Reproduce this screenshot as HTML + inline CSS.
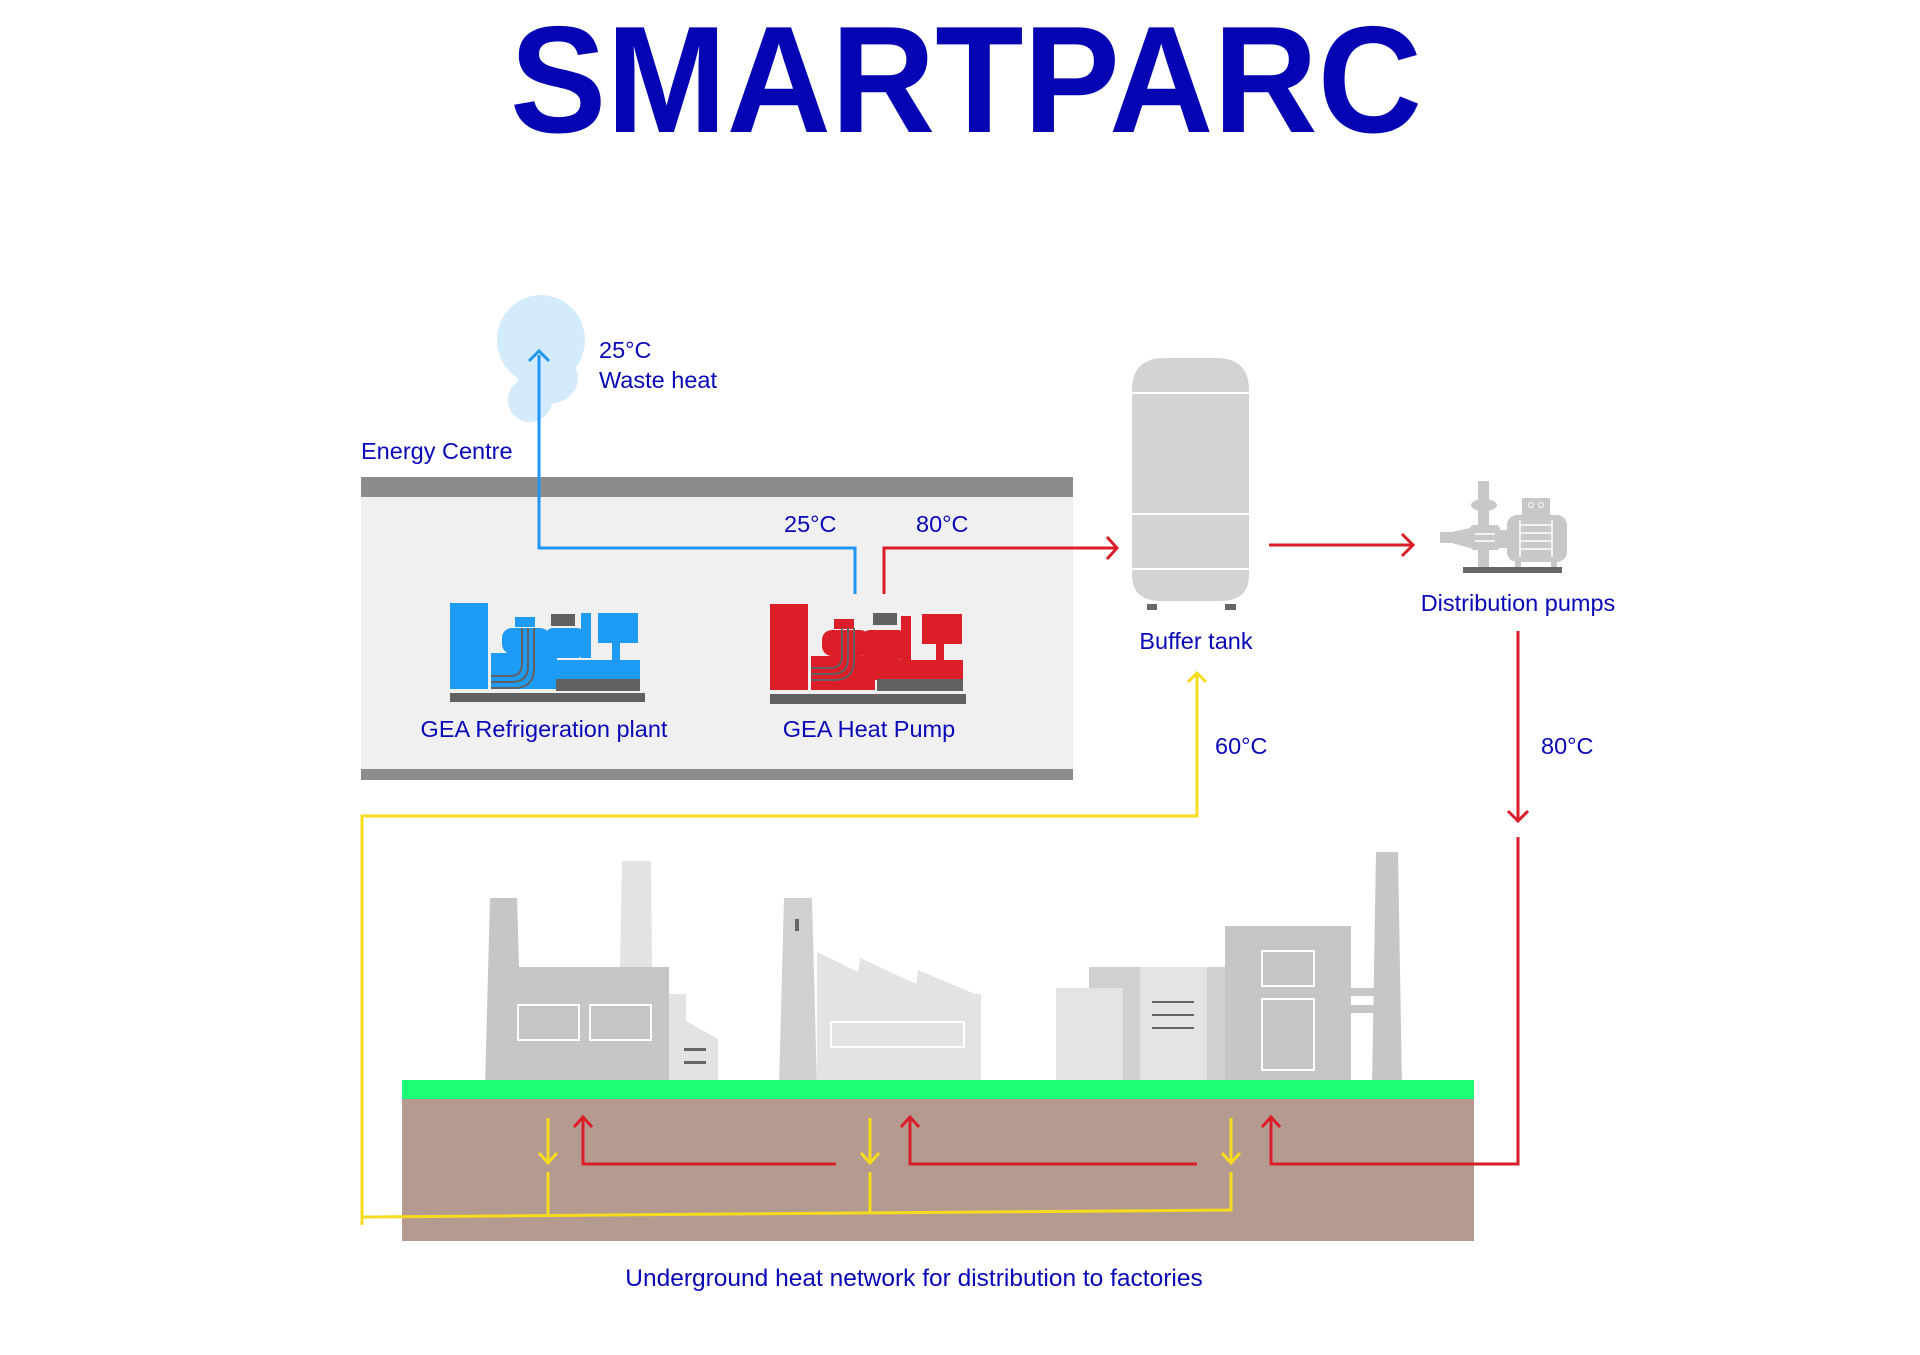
<!DOCTYPE html>
<html><head><meta charset="utf-8"><style>
html,body{margin:0;padding:0;background:#fff;}
svg{display:block;}
text{font-family:"Liberation Sans",sans-serif;fill:#0808b8;font-size:23.5px;}
</style></head><body>
<svg width="1920" height="1355" viewBox="0 0 1920 1355" xmlns="http://www.w3.org/2000/svg">
<!-- Title -->
<text x="510" y="132" style="font-size:152px;font-weight:bold;fill:#0505b4" textLength="912" lengthAdjust="spacingAndGlyphs">SMARTPARC</text>

<!-- Cloud -->
<ellipse cx="541" cy="340" rx="44" ry="45" fill="#d4ebfc"/>
<ellipse cx="548" cy="378" rx="30" ry="26" fill="#d4ebfc"/>
<circle cx="530" cy="400" r="22" fill="#d4ebfc"/>
<text x="599" y="358">25°C</text>
<text x="599" y="388">Waste heat</text>

<!-- Energy centre -->
<text x="361" y="459">Energy Centre</text>
<rect x="361" y="477" width="712" height="303" fill="#f0f0f0"/>
<rect x="361" y="477" width="712" height="20" fill="#8c8c8c"/>
<rect x="361" y="769" width="712" height="11" fill="#8c8c8c"/>
<text x="784" y="532">25°C</text>
<text x="916" y="532">80°C</text>

<!-- blue line -->
<polyline points="539,355 539,548 855,548 855,594" fill="none" stroke="#2196f3" stroke-width="3"/>
<polyline points="529,361 539,351 549,361" fill="none" stroke="#2196f3" stroke-width="3"/>
<!-- red line -->
<polyline points="884,594 884,548 1116,548" fill="none" stroke="#d91e2a" stroke-width="3"/>
<polyline points="1107,537 1117,548 1107,559" fill="none" stroke="#d91e2a" stroke-width="3"/>

<!-- Refrigeration plant icon (blue) -->
<g fill="#1e9bf5">
<rect x="450" y="603" width="38" height="86"/>
<rect x="491" y="653" width="66" height="36"/>
<rect x="552" y="660" width="88" height="20"/>
<rect x="515" y="617" width="20" height="10"/>
<rect x="502" y="628" width="48" height="26" rx="10"/>
<rect x="545" y="628" width="40" height="30" rx="8"/>
<rect x="598" y="613" width="40" height="30"/>
<rect x="581" y="613" width="10" height="45"/>
<rect x="612" y="640" width="8" height="25"/>
</g>
<rect x="551" y="614" width="24" height="12" fill="#616161"/>
<rect x="556" y="679" width="84" height="12" fill="#616161"/>
<rect x="450" y="693" width="195" height="9" fill="#616161"/>
<path d="M491 676 H510 Q522 676 522 664 V628 M491 682 H512 Q528 682 528 666 V628 M491 688 H514 Q534 688 534 668 V628" fill="none" stroke="#616161" stroke-width="2"/>

<!-- Heat pump icon (red) -->
<g fill="#dc1e28">
<rect x="770" y="604" width="38" height="86"/>
<rect x="811" y="656" width="64" height="34"/>
<rect x="875" y="660" width="88" height="20"/>
<rect x="834" y="619" width="20" height="10"/>
<rect x="822" y="630" width="48" height="26" rx="10"/>
<rect x="862" y="630" width="44" height="30" rx="8"/>
<rect x="922" y="614" width="40" height="30"/>
<rect x="901" y="616" width="10" height="45"/>
<rect x="936" y="640" width="8" height="25"/>
</g>
<rect x="873" y="613" width="24" height="12" fill="#616161"/>
<rect x="877" y="679" width="86" height="12" fill="#616161"/>
<rect x="770" y="694" width="196" height="10" fill="#616161"/>
<path d="M811 668 H830 Q842 668 842 656 V628 M811 674 H832 Q848 674 848 658 V628 M811 680 H834 Q854 680 854 660 V628" fill="none" stroke="#616161" stroke-width="2"/>

<text x="544" y="737" text-anchor="middle">GEA Refrigeration plant</text>
<text x="869" y="737" text-anchor="middle">GEA Heat Pump</text>

<!-- Buffer tank -->
<path d="M1132 390 Q1132 358 1165 358 H1216 Q1249 358 1249 390 V575 Q1249 601 1220 601 H1161 Q1132 601 1132 575 Z" fill="#d3d3d3"/>
<line x1="1132" y1="393" x2="1249" y2="393" stroke="#fff" stroke-width="2"/>
<line x1="1132" y1="514" x2="1249" y2="514" stroke="#fff" stroke-width="2"/>
<line x1="1132" y1="569" x2="1249" y2="569" stroke="#fff" stroke-width="2"/>
<rect x="1147" y="604" width="10" height="6" fill="#666"/>
<rect x="1225" y="604" width="11" height="6" fill="#666"/>
<text x="1196" y="649" text-anchor="middle">Buffer tank</text>

<!-- arrow to pumps -->
<line x1="1269" y1="545" x2="1411" y2="545" stroke="#d91e2a" stroke-width="3"/>
<polyline points="1402,534 1413,545 1402,556" fill="none" stroke="#d91e2a" stroke-width="3"/>

<!-- Pump icon -->
<g fill="#c8c8c8">
<rect x="1478" y="481" width="11" height="88"/>
<ellipse cx="1484" cy="505" rx="13" ry="6"/>
<rect x="1470" y="525" width="30" height="25" rx="4"/>
<polygon points="1440,532 1452,532 1470,528 1470,548 1452,543 1440,543"/>
<rect x="1500" y="530" width="8" height="18"/>
<rect x="1507" y="515" width="60" height="47" rx="10"/>
<rect x="1522" y="498" width="28" height="18"/>
<rect x="1515" y="560" width="6" height="8"/><rect x="1551" y="560" width="6" height="8"/>
</g>
<g stroke="#fff" stroke-width="1.5">
<line x1="1520" y1="525" x2="1552" y2="525"/><line x1="1520" y1="533" x2="1552" y2="533"/>
<line x1="1520" y1="541" x2="1552" y2="541"/><line x1="1520" y1="549" x2="1552" y2="549"/>
<line x1="1520" y1="520" x2="1520" y2="557"/><line x1="1552" y1="520" x2="1552" y2="557"/>
<line x1="1475" y1="534" x2="1495" y2="534"/><line x1="1475" y1="541" x2="1495" y2="541"/>
</g>
<circle cx="1531" cy="505" r="2.5" fill="none" stroke="#fff"/><circle cx="1541" cy="505" r="2.5" fill="none" stroke="#fff"/>
<rect x="1463" y="567" width="99" height="6" fill="#666"/>
<text x="1518" y="611" text-anchor="middle">Distribution pumps</text>

<!-- red supply -->
<line x1="1518" y1="631" x2="1518" y2="820" stroke="#d91e2a" stroke-width="3"/>
<polyline points="1508,811 1518,821 1528,811" fill="none" stroke="#d91e2a" stroke-width="3"/>
<text x="1541" y="754">80°C</text>

<!-- yellow return -->
<polyline points="1197,673 1197,816 362,816 362,1225" fill="none" stroke="#f7dc1e" stroke-width="3"/>
<polyline points="1188,682 1197,673 1206,682" fill="none" stroke="#f7dc1e" stroke-width="3"/>
<text x="1215" y="754">60°C</text>

<!-- Factories -->
<g>
<polygon points="622,861 651,861 652,967 620,967" fill="#e3e3e3"/>
<polygon points="490,898 517,898 519,967 669,967 669,1087 485,1087" fill="#c6c6c6"/>
<polygon points="669,994 686,994 686,1021 718,1039 718,1087 669,1087" fill="#e3e3e3"/>
<rect x="518" y="1005" width="61" height="35" fill="none" stroke="#fff" stroke-width="2"/>
<rect x="590" y="1005" width="61" height="35" fill="none" stroke="#fff" stroke-width="2"/>
<rect x="684" y="1048" width="22" height="3" fill="#666"/><rect x="684" y="1061" width="22" height="3" fill="#666"/>

<polygon points="817,952 858,972 860,958 916,984 918,970 975,994 981,994 981,1087 817,1087" fill="#e3e3e3"/>
<polygon points="784,898 812,898 817,1087 779,1087" fill="#d0d0d0"/>
<rect x="795" y="919" width="4" height="12" fill="#666"/>
<rect x="831" y="1022" width="133" height="25" fill="none" stroke="#fff" stroke-width="2"/>

<rect x="1089" y="967" width="136" height="120" fill="#d0d0d0"/>
<rect x="1140" y="967" width="67" height="120" fill="#e4e4e4"/>
<rect x="1056" y="988" width="67" height="99" fill="#e4e4e4"/>
<rect x="1152" y="1001" width="42" height="2" fill="#666"/><rect x="1152" y="1014" width="42" height="2" fill="#666"/><rect x="1152" y="1027" width="42" height="2" fill="#666"/>
<rect x="1225" y="926" width="126" height="161" fill="#c6c6c6"/>
<rect x="1262" y="951" width="52" height="35" fill="none" stroke="#fff" stroke-width="2"/>
<rect x="1262" y="999" width="52" height="71" fill="none" stroke="#fff" stroke-width="2"/>
<rect x="1351" y="988" width="24" height="8" fill="#c6c6c6"/><rect x="1351" y="1005" width="24" height="8" fill="#c6c6c6"/>
<polygon points="1376,852 1398,852 1402,1087 1372,1087" fill="#c6c6c6"/>
</g>

<!-- ground -->
<rect x="402" y="1080" width="1072" height="19" fill="#1eff78"/>
<rect x="402" y="1099" width="1072" height="142" fill="#b59b8f"/>

<!-- network -->
<g fill="none" stroke="#f7dc1e" stroke-width="3">
<polyline points="362,1225 362,1217 1231,1210 1231,1172"/>
<line x1="548" y1="1172" x2="548" y2="1216"/>
<line x1="870" y1="1172" x2="870" y2="1213"/>
<line x1="548" y1="1118" x2="548" y2="1163"/><polyline points="539,1153 548,1163 557,1153"/>
<line x1="870" y1="1118" x2="870" y2="1163"/><polyline points="861,1153 870,1163 879,1153"/>
<line x1="1231" y1="1118" x2="1231" y2="1163"/><polyline points="1222,1153 1231,1163 1240,1153"/>
</g>
<g fill="none" stroke="#d91e2a" stroke-width="3">
<polyline points="583,1118 583,1164 836,1164"/><polyline points="574,1127 583,1117 592,1127"/>
<polyline points="910,1118 910,1164 1197,1164"/><polyline points="901,1127 910,1117 919,1127"/>
<polyline points="1271,1118 1271,1164 1518,1164 1518,837"/><polyline points="1262,1127 1271,1117 1280,1127"/>
</g>

<text x="914" y="1286" text-anchor="middle" style="font-size:24.5px">Underground heat network for distribution to factories</text>
</svg>
</body></html>
